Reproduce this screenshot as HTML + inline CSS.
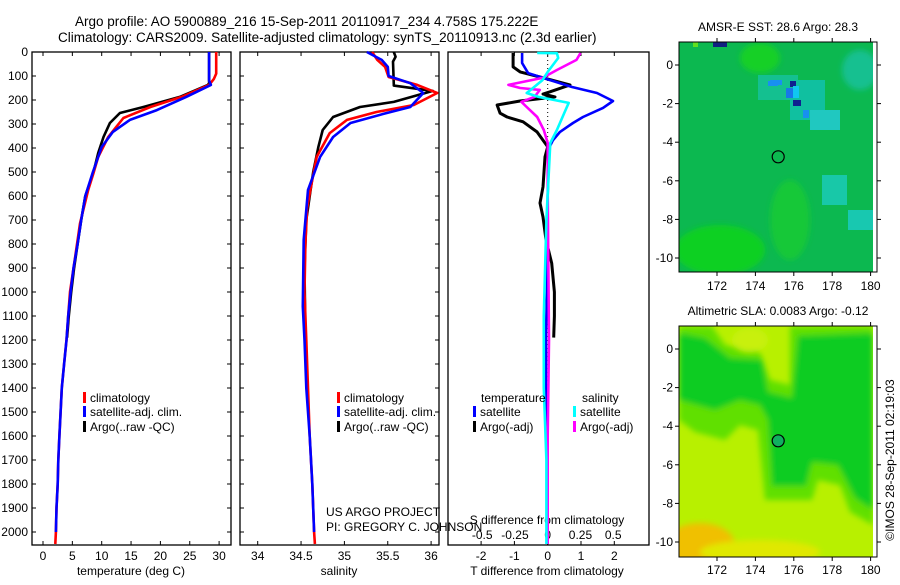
<!DOCTYPE html>
<html><head><meta charset="utf-8"><style>
body{margin:0;background:#fff;width:900px;height:580px;overflow:hidden}
svg{font-family:"Liberation Sans",sans-serif;font-size:12px}
</style></head><body>
<svg id="c" width="900" height="580" viewBox="0 0 900 580">
<defs><filter id="bl"><feGaussianBlur stdDeviation="3"/></filter>
<clipPath id="m2c"><rect x="679" y="326" width="194" height="231"/></clipPath>
<clipPath id="m1c"><rect x="679" y="42" width="194" height="230"/></clipPath></defs>
<text x="75" y="26" font-size="13.5">Argo profile: AO 5900889_216 15-Sep-2011 20110917_234 4.758S 175.222E</text>
<text x="58" y="42" font-size="13.5">Climatology: CARS2009. Satellite-adjusted climatology: synTS_20110913.nc (2.3d earlier)</text>

<g id="maps">
<text x="778" y="31" text-anchor="middle">AMSR-E SST: 28.6 Argo: 28.3</text>
<g clip-path="url(#m1c)">
<rect x="679" y="42" width="194" height="230" fill="#0cb850"/>
<g filter="url(#bl)">
<ellipse cx="720" cy="250" rx="45" ry="25" fill="#10d020"/>
<ellipse cx="790" cy="220" rx="20" ry="40" fill="#18c838"/>
<ellipse cx="760" cy="58" rx="20" ry="15" fill="#14d028"/>
<ellipse cx="860" cy="70" rx="18" ry="20" fill="#14c090"/>
</g>
<rect x="758" y="75" width="40" height="25" fill="#14c090"/>
<rect x="790" y="80" width="35" height="40" fill="#10c0a0"/>
<rect x="810" y="110" width="30" height="20" fill="#20c8c0"/>
<rect x="770" y="80" width="8" height="6" fill="#1890f0"/>
<rect x="768" y="81" width="5" height="5" fill="#1890f0"/>
<rect x="776" y="80" width="6" height="5" fill="#1890f0"/>
<rect x="790" y="81" width="6" height="6" fill="#102090"/>
<rect x="786" y="88" width="8" height="10" fill="#1878e8"/>
<rect x="793" y="86" width="6" height="12" fill="#10c8f0"/>
<rect x="793" y="100" width="8" height="6" fill="#102090"/>
<rect x="803" y="110" width="6" height="8" fill="#1890f0"/>
<rect x="713" y="42" width="14" height="5" fill="#102080"/>
<rect x="822" y="175" width="25" height="30" fill="#18c8a8"/>
<rect x="848" y="210" width="25" height="20" fill="#18c8b0"/>
<rect x="693" y="42" width="5" height="5" fill="#60e020"/>
</g>
<rect x="679" y="42" width="198" height="230" fill="none" stroke="#000"/>
<circle cx="778.2" cy="156.8" r="6" fill="none" stroke="#000" stroke-width="1.2"/>

<text x="778" y="315" text-anchor="middle">Altimetric SLA: 0.0083 Argo: -0.12</text>
<g clip-path="url(#m2c)">
<rect x="679" y="326" width="194" height="231" fill="#b8f000"/>
<g filter="url(#bl)">
<path d="M679,326 L712,326 L725,345 L760,352 L770,380 L790,385 L790,326 L873,326 L873,525 L850,512 L840,485 L818,480 L812,500 L765,500 L758,430 L740,425 L725,440 L695,432 L679,420 Z" fill="#60e000"/>
<path d="M679,333 L705,338 L730,358 L762,360 L768,392 L792,398 L798,336 L873,333 L873,510 L855,498 L838,465 L812,462 L806,486 L772,486 L768,420 L760,405 L740,400 L715,410 L679,400 Z" fill="#08cc20"/>
<ellipse cx="700" cy="545" rx="35" ry="22" fill="#f0c000"/>
<ellipse cx="760" cy="552" rx="60" ry="12" fill="#e0e800"/>
<ellipse cx="750" cy="340" rx="18" ry="12" fill="#c8f010"/>
</g>
<rect x="873" y="326" width="4" height="231" fill="#fff"/>
</g>
<rect x="679" y="326" width="198" height="231" fill="none" stroke="#000"/>
<circle cx="778.2" cy="440.8" r="6" fill="#10b060" stroke="#000" stroke-width="1.2"/>
<text transform="translate(894,460) rotate(-90)" text-anchor="middle">©IMOS 28-Sep-2011 02:19:03</text>
</g>
<g id="plots"></g>
</svg>
<script>
// ---- data ----
const tDepthClim=[0,90,113,137,187,229,275,354,437,504,575,714,850,1000,1100,1200,1300,1400,1500,1600,1700,1800,1900,2000,2050];
const tClim=[29.5,29.5,29.1,28.3,23.6,18.3,13.7,11.1,9.4,8.6,7.7,6.3,5.5,4.6,4.3,4.0,3.6,3.2,3.0,2.8,2.6,2.5,2.3,2.2,2.1];
const tDepthSat=[0,120,137,187,242,283,333,396,500,600,700,800,900,1000,1100,1200,1300,1400,1500,1600,1700,1800,1900,2000];
const tSat=[28.3,28.3,28.6,24.4,19.4,14.8,11.9,10.0,8.5,7.2,6.5,5.9,5.2,4.7,4.3,4.0,3.6,3.2,3.0,2.8,2.6,2.5,2.3,2.2];
const tDepthArgo=[0,130,137,187,229,254,296,354,421,500,600,700,800,900,1000,1100,1190];
const tArgo=[28.3,28.3,28.1,23.3,17.1,13.1,11.4,10.3,9.4,8.6,7.2,6.5,5.9,5.3,4.8,4.4,4.1];
const sDepthClim=[0,33,62,104,137,171,221,250,283,338,437,550,650,800,1000,1200,1400,1600,1800,2000,2050];
const sClim=[35.32,35.38,35.47,35.51,35.84,36.07,35.8,35.37,35.03,34.83,34.68,34.62,34.57,34.55,34.54,34.56,34.58,34.6,34.63,34.65,34.66];
const sDepthSat=[0,33,62,100,130,171,229,258,296,354,437,575,783,1060,1200,1400,1600,1800,2000];
const sSat=[35.26,35.43,35.5,35.51,35.76,35.91,35.76,35.45,35.07,34.87,34.72,34.58,34.53,34.52,34.54,34.56,34.6,34.63,34.65];
const sDepthArgo=[0,20,40,135,140,162,208,229,271,325,395,500,700,900,1190];
const sArgo=[35.57,35.59,35.56,35.57,35.57,36.02,35.57,35.18,34.87,34.75,34.70,34.64,34.56,34.54,34.55];
const dDepthTArgo=[4,62,83,104,137,166,175,187,204,221,255,271,291,333,379,395,437,562,629,687,783,880,1000,1100,1190];
const dTArgo=[-1.04,-1.04,-0.83,-0.23,0.67,0.07,-0.14,0.22,-0.83,-1.52,-1.43,-1.22,-0.74,-0.32,-0.08,0,-0.08,-0.14,-0.23,-0.14,-0.05,0.12,0.2,0.2,0.18];
const dDepthTSat=[4,46,88,108,146,171,204,233,271,296,333,367,400,600,1000,1170,1380,1600,2050];
const dTSat=[-0.77,-0.77,-0.59,-0.14,0.73,1.48,1.96,1.66,1.06,0.76,0.37,0.16,0.04,0,-0.02,-0.05,-0.05,-0.02,0];
const dDepthSArgo=[4,33,75,108,137,150,158,187,208,229,271,325,379,575,1200,1600,2050];
const dSArgo=[0.25,0.22,0.07,-0.04,-0.3,-0.21,-0.06,-0.1,-0.2,-0.16,-0.08,-0.03,0,0,0.01,0,0];
const dDepthSSat=[4,5,25,54,83,117,158,171,187,212,250,325,379,700,1100,1400,1700,2050];
const dSSat=[-0.08,0.07,0.08,0.04,0,-0.04,-0.13,-0.16,-0.07,0.16,0.13,0.07,0.02,-0.01,-0.03,-0.03,-0.01,-0.01];
const depthTicks=[0,100,200,300,400,500,600,700,800,900,1000,1100,1200,1300,1400,1500,1600,1700,1800,1900,2000];
const tTicks=[0,5,10,15,20,25,30];
const sTicks=[34,34.5,35,35.5,36];
const dTTicks=[-2,-1,0,1,2];
const dSTicks=[-0.5,-0.25,0,0.25,0.5];
const lonTicks=[172,174,176,178,180];
const latTicks=[0,-2,-4,-6,-8,-10];

// ---- scales ----
const NS='http://www.w3.org/2000/svg';
const g=document.getElementById('plots');
const yD=d=>52+d*0.24;
const xT=v=>43+v*5.87;
const xS=v=>257.7+(v-34)*86.7;
const xDT=v=>547.7+v*33.3;
const xDS=v=>547.7+v*131;
const m1y=v=>65-v*19.3, m2y=v=>349-v*19.3, mx=v=>717+(v-172)*19.2;
function mk(tag,at,parent){const e=document.createElementNS(NS,tag);for(const k in at)e.setAttribute(k,at[k]);(parent||g).appendChild(e);return e;}
function line(xs,ds,xf,col,name,w){
  const p=xs.map((v,i)=>xf(v).toFixed(1)+','+yD(ds[i]).toFixed(1)).join(' ');
  const e=mk('polyline',{points:p,fill:'none',stroke:col,'stroke-width':w||2.6,'stroke-linejoin':'round'});
  
  
}
function txt(x,y,s,anchor,name,size){
  const e=mk('text',{x:x,y:y,'text-anchor':anchor||'start'});
  if(size)e.setAttribute('font-size',size);
  e.textContent=s;
  
  
  return e;
}
const panels=[[32,231],[240,439],[448,649]];
panels.forEach((p,i)=>{
  const r=mk('rect',{x:p[0],y:52,width:p[1]-p[0],height:493,fill:'none',stroke:'#000','stroke-width':1.3});
  
  
  if(i<2){depthTicks.forEach(d=>{
    mk('line',{x1:p[0],x2:p[0]+4,y1:yD(d),y2:yD(d),stroke:'#000'});
    mk('line',{x1:p[1]-4,x2:p[1],y1:yD(d),y2:yD(d),stroke:'#000'});
  });}
});
depthTicks.forEach(d=>txt(28,yD(d)+4,String(d),'end','depth-tick-label'));
tTicks.forEach(v=>{mk('line',{x1:xT(v),x2:xT(v),y1:52,y2:56,stroke:'#000'});mk('line',{x1:xT(v),x2:xT(v),y1:541,y2:545,stroke:'#000'});txt(xT(v),560,String(v),'middle','temperature-tick-label');});
sTicks.forEach(v=>{mk('line',{x1:xS(v),x2:xS(v),y1:52,y2:56,stroke:'#000'});mk('line',{x1:xS(v),x2:xS(v),y1:541,y2:545,stroke:'#000'});txt(xS(v),560,String(v),'middle','salinity-tick-label');});
dTTicks.forEach(v=>{mk('line',{x1:xDT(v),x2:xDT(v),y1:52,y2:56,stroke:'#000'});mk('line',{x1:xDT(v),x2:xDT(v),y1:541,y2:545,stroke:'#000'});txt(xDT(v),560,String(v),'middle','t-diff-tick-label');});
dSTicks.forEach(v=>txt(xDS(v),539,String(v),'middle','s-diff-tick-label'));
mk('line',{x1:547.7,x2:547.7,y1:52,y2:545,stroke:'#000','stroke-dasharray':'1,3'});
txt(131,575,'temperature (deg C)','middle','temperature-axis-title');
txt(339,575,'salinity','middle','salinity-axis-title');
txt(547,575,'T difference from climatology','middle','t-diff-axis-title');
txt(547,524,'S difference from climatology','middle','s-diff-axis-title');

line(tArgo,tDepthArgo,xT,'#000','temp-argo-line');
line(tClim,tDepthClim,xT,'#f00','temp-climatology-line');
line(tSat,tDepthSat,xT,'#00f','temp-satellite-line');
line(sArgo,sDepthArgo,xS,'#000','salinity-argo-line');
line(sClim,sDepthClim,xS,'#f00','salinity-climatology-line');
line(sSat,sDepthSat,xS,'#00f','salinity-satellite-line');
line(dTArgo,dDepthTArgo,xDT,'#000','t-diff-argo-line',3);
line(dTSat,dDepthTSat,xDT,'#00f','t-diff-satellite-line');
line(dSArgo,dDepthSArgo,xDS,'#f0f','s-diff-argo-line');
line(dSSat,dDepthSSat,xDS,'#0ff','s-diff-satellite-line');

function leg(x,y,col,label){mk('rect',{x:x-1,y:y-6,width:3,height:11,fill:col});txt(x+6,y+4,label,'start','legend-entry');}
[[84,'temp'],[338,'sal']].forEach(l=>{leg(l[0],398,'#f00','climatology');leg(l[0],412,'#00f','satellite-adj. clim.');leg(l[0],427,'#000','Argo(..raw -QC)');});
txt(481,402,'temperature','start','legend-temperature-header');
leg(474,412,'#00f','satellite');leg(474,427,'#000','Argo(-adj)');
txt(582,402,'salinity','start','legend-salinity-header');
leg(574,412,'#0ff','satellite');leg(574,427,'#f0f','Argo(-adj)');
txt(326,516,'US ARGO PROJECT','start','credit-project');
txt(326,531,'PI: GREGORY C. JOHNSON','start','credit-pi');

// map axes
lonTicks.forEach(v=>{
  [[42,272],[326,557]].forEach(b=>{mk('line',{x1:mx(v),x2:mx(v),y1:b[0]-4,y2:b[0],stroke:'#000'});mk('line',{x1:mx(v),x2:mx(v),y1:b[1],y2:b[1]+4,stroke:'#000'});});
  txt(mx(v),290,String(v),'middle','sst-lon-tick-label');
  txt(mx(v),574,String(v),'middle','sla-lon-tick-label');
});
latTicks.forEach(v=>{
  mk('line',{x1:675,x2:679,y1:m1y(v),y2:m1y(v),stroke:'#000'});mk('line',{x1:877,x2:881,y1:m1y(v),y2:m1y(v),stroke:'#000'});
  mk('line',{x1:675,x2:679,y1:m2y(v),y2:m2y(v),stroke:'#000'});mk('line',{x1:877,x2:881,y1:m2y(v),y2:m2y(v),stroke:'#000'});
  txt(673,m1y(v)+4,String(v),'end','sst-lat-tick-label');
  txt(673,m2y(v)+4,String(v),'end','sla-lat-tick-label');
});
</script>
</body></html>
